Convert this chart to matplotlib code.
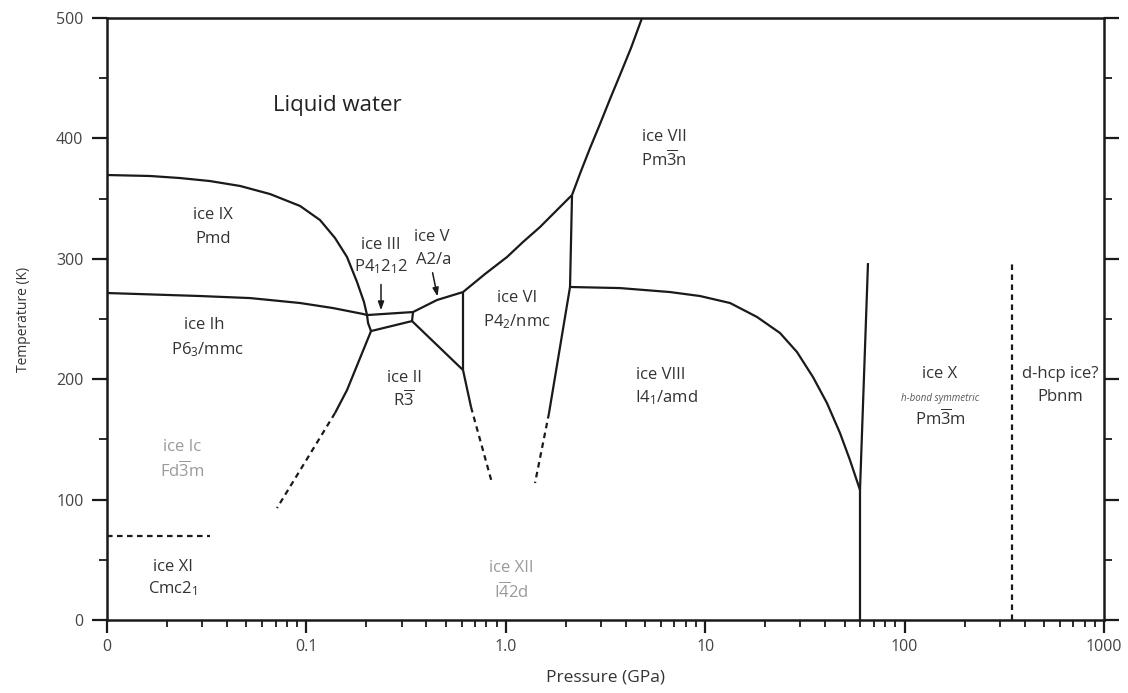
import numpy as np
import matplotlib
matplotlib.use('Agg')
import matplotlib.pyplot as plt
from matplotlib.ticker import FixedLocator, FixedFormatter, LogLocator, MultipleLocator, NullFormatter

plt.rcParams['font.family'] = ['Open Sans', 'DejaVu Sans']
plt.rcParams['mathtext.fontset'] = 'custom'
plt.rcParams['mathtext.rm'] = 'Open Sans'
plt.rcParams['mathtext.it'] = 'Open Sans:italic'

# fronteras de fase (P en GPa, T en K)
p_liq_ix = [0.01, 0.0164, 0.0232, 0.0328, 0.0465, 0.0657, 0.0929, 0.117, 0.1391, 0.1598, 0.1794, 0.1944, 0.2013]
t_liq_ix = [369.6, 368.8, 367.1, 364.6, 360.5, 353.8, 343.9, 332.2, 317.3, 301.5, 280.7, 264.1, 253.3]

p_ih_ix = [0.01, 0.0293, 0.0522, 0.0929, 0.136, 0.1922, 0.2013]
t_ih_ix = [271.6, 269.1, 267.4, 263.3, 259.1, 254.2, 253.3]

p_ice3 = [0.2013, 0.3424, 0.3385, 0.2109, 0.2037, 0.2013]
t_ice3 = [253.3, 255.8, 248.3, 240.0, 246.7, 253.3]

p_ih_ii = [0.2109, 0.1598, 0.1391]
t_ih_ii = [240.0, 191.0, 171.9]
p_ih_ii_d = [0.1391, 0.0712]
t_ih_ii_d = [171.9, 93.0]

p_liq_v = [0.3424, 0.4519, 0.6101]
t_liq_v = [255.8, 265.8, 272.4]

p_v_vi = [0.6101, 0.6101]
t_v_vi = [272.4, 207.6]

p_ii_v = [0.3385, 0.6101]
t_ii_v = [248.3, 207.6]

p_ii_vi = [0.6101, 0.6691]
t_ii_vi = [207.6, 176.9]
p_ii_vi_d = [0.6691, 0.8527]
t_ii_vi_d = [176.9, 113.8]

p_liq_vi = [0.6101, 0.7865, 1.014, 1.22, 1.484, 1.785, 2.148]
t_liq_vi = [272.4, 287.4, 301.5, 314.0, 326.4, 339.7, 353.0]

p_liq_vii = [2.148, 2.383, 2.645, 2.968, 3.331, 3.738, 4.245, 4.82]
t_liq_vii = [353.0, 372.9, 392.0, 412.0, 432.7, 452.7, 475.1, 500.0]

p_vi_vii = [2.148, 2.099]
t_vi_vii = [353.0, 276.6]

p_vi_viii = [2.099, 1.647]
t_vi_viii = [276.6, 171.9]
p_vi_viii_d = [1.647, 1.401]
t_vi_viii_d = [171.9, 113.8]

p_vii_viii = [2.099, 3.738, 6.661, 9.417, 13.32, 18.19, 23.72, 28.86, 34.72, 40.8, 47.43, 53.2, 59.75]
t_vii_viii = [276.6, 275.7, 272.4, 269.1, 263.3, 251.7, 238.4, 222.6, 201.8, 180.2, 155.3, 132.9, 108.0]

p_viii_x = [59.75, 59.75]
t_viii_x = [108.0, 0.0]

p_vii_x = [59.75, 65.53]
t_vii_x = [108.0, 296.5]

p_x_dhcp = [345.6, 345.6]
t_x_dhcp = [0.0, 299.0]

p_ic_xi = [0.01, 0.0328]
t_ic_xi = [69.8, 69.8]

# etiquetas de las fases
etiquetas = [
    ('Liquid water', 0.1424, 427.7, 16, 'normal', '#222222'),
    ('ice IX', 0.0340, 336.4, 12, 'normal', '#333333'),
    ('Pmd', 0.0340, 316.4, 12, 'normal', '#333333'),
    ('ice Ih', 0.0306, 245.0, 12, 'normal', '#333333'),
    ('P6$_3$/mmc', 0.0320, 224.3, 12, 'normal', '#333333'),
    ('ice Ic', 0.0238, 143.7, 12, 'normal', '#9a9a9a'),
    (r'Fd$\mathregular{\overline{3}}$m', 0.0238, 123.8, 12, 'normal', '#9a9a9a'),
    ('ice XI', 0.0214, 44.0, 12, 'normal', '#333333'),
    ('Cmc2$_1$', 0.0214, 25.7, 12, 'normal', '#333333'),
    ('ice III', 0.2366, 311.5, 12, 'normal', '#333333'),
    ('P4$_1$2$_1$2', 0.2366, 293.2, 12, 'normal', '#333333'),
    ('ice V', 0.4265, 318.1, 12, 'normal', '#333333'),
    ('A2/a', 0.4350, 299.0, 12, 'normal', '#333333'),
    ('ice VI', 1.138, 267.4, 12, 'normal', '#333333'),
    ('P4$_2$/nmc', 1.138, 247.5, 12, 'normal', '#333333'),
    ('ice II', 0.309, 201.0, 12, 'normal', '#333333'),
    (r'R$\mathregular{\overline{3}}$', 0.309, 182.7, 12, 'normal', '#333333'),
    ('ice XII', 1.062, 43.2, 12, 'normal', '#9a9a9a'),
    (r'I$\mathregular{\overline{4}}$2d', 1.062, 23.3, 12, 'normal', '#9a9a9a'),
    ('ice VII', 6.215, 401.2, 12, 'normal', '#333333'),
    (r'Pm$\mathregular{\overline{3}}$n', 6.215, 382.1, 12, 'normal', '#333333'),
    ('ice VIII', 6.0, 203.5, 12, 'normal', '#333333'),
    ('I4$_1$/amd', 6.4, 184.4, 12, 'normal', '#333333'),
    ('ice X', 150.5, 204.3, 12, 'normal', '#333333'),
    ('h-bond symmetric', 150.5, 184.4, 7, 'italic', '#555555'),
    (r'Pm$\mathregular{\overline{3}}$m', 150.5, 166.9, 12, 'normal', '#333333'),
    ('d-hcp ice?', 601.9, 204.3, 12, 'normal', '#333333'),
    ('Pbnm', 601.9, 185.2, 12, 'normal', '#333333'),
]

xticks = [0.01, 0.1, 1, 10, 100, 1000]
xtick_labels = ['0', '0.1', '1.0', '10', '100', '1000']
yticks = [0, 100, 200, 300, 400, 500]

fig = plt.figure(figsize=(11.28, 6.93), dpi=100)
ax = fig.add_axes([0.0949, 0.1053, 0.8838, 0.8687])

lw = 1.6
col = '#1a1a1a'
solidas = [(p_liq_ix, t_liq_ix), (p_ih_ix, t_ih_ix), (p_ice3, t_ice3), (p_ih_ii, t_ih_ii),
           (p_liq_v, t_liq_v), (p_v_vi, t_v_vi), (p_ii_v, t_ii_v), (p_ii_vi, t_ii_vi),
           (p_liq_vi, t_liq_vi), (p_liq_vii, t_liq_vii), (p_vi_vii, t_vi_vii), (p_vi_viii, t_vi_viii),
           (p_vii_viii, t_vii_viii), (p_viii_x, t_viii_x), (p_vii_x, t_vii_x)]
for p, t in solidas:
    ax.plot(p, t, color=col, lw=lw, solid_capstyle='butt', solid_joinstyle='round')

discontinuas = [(p_ih_ii_d, t_ih_ii_d), (p_ii_vi_d, t_ii_vi_d), (p_vi_viii_d, t_vi_viii_d),
                (p_x_dhcp, t_x_dhcp), (p_ic_xi, t_ic_xi)]
for p, t in discontinuas:
    ax.plot(p, t, color=col, lw=lw, ls=(0, (2.5, 2.0)))

for texto, x, y, fs, estilo, c in etiquetas:
    ax.text(x, y, texto, fontsize=fs, style=estilo, color=c, ha='center', va='center')

# flechas de ice III y ice V
ax.annotate('', xy=(0.2366, 255.0), xytext=(0.2366, 281.0),
            arrowprops=dict(arrowstyle='-|>,head_length=0.5,head_width=0.18', color=col, lw=1.1))
ax.annotate('', xy=(0.4571, 266.5), xytext=(0.4265, 290.7),
            arrowprops=dict(arrowstyle='-|>,head_length=0.5,head_width=0.18', color=col, lw=1.1))

ax.set_xscale('log')
ax.set_xlim(0.01, 1000)
ax.set_ylim(0, 500)

ax.xaxis.set_major_locator(FixedLocator(xticks))
ax.xaxis.set_major_formatter(FixedFormatter(xtick_labels))
ax.xaxis.set_minor_locator(LogLocator(base=10, subs=np.arange(2, 10)))
ax.xaxis.set_minor_formatter(NullFormatter())
ax.set_yticks(yticks)
ax.yaxis.set_minor_locator(MultipleLocator(50))

for s in ax.spines.values():
    s.set_linewidth(1.8)
    s.set_color(col)

ax.tick_params(axis='x', which='major', direction='out', length=9, width=1.6, colors=col,
               labelsize=11.5, labelcolor='#444444', pad=5)
ax.tick_params(axis='x', which='minor', direction='out', length=5, width=1.3, colors=col)
ax.tick_params(axis='y', which='major', direction='out', length=11, width=1.6, colors=col,
               labelsize=11.5, labelcolor='#444444', right=True, pad=6)
ax.tick_params(axis='y', which='minor', direction='out', length=6, width=1.3, colors=col, right=True)

ax.set_xlabel('Pressure (GPa)', fontsize=12.5, color='#333333', labelpad=10)
ax.set_ylabel('Temperature (K)', fontsize=10, color='#333333', labelpad=18)

fig.savefig('out.png', dpi=100)
